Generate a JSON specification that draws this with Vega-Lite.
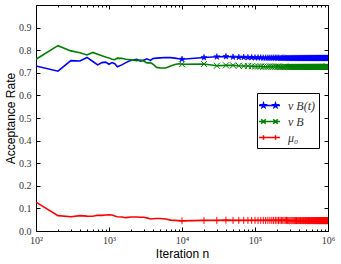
{
  "$schema": "https://vega.github.io/schema/vega-lite/v6.json",
  "width": 292,
  "height": 226,
  "autosize": {"type": "none"},
  "padding": {"left": 36, "top": 5, "right": 13, "bottom": 33},
  "background": "white",
  "config": {
    "view": {"stroke": "black", "strokeWidth": 1},
    "axis": {
      "grid": false,
      "domain": false,
      "tickColor": "black",
      "labelFont": "Liberation Serif",
      "labelFontSize": 10,
      "labelColor": "#333333",
      "titleFont": "Liberation Sans",
      "titleFontSize": 12,
      "titleFontWeight": "normal",
      "titleColor": "black"
    }
  },
  "datasets": {
    "rates": [
      {"n": 100, "nuBt": 0.730, "nuB": 0.760, "mu0": 0.128},
      {"n": 200, "nuBt": 0.707, "nuB": 0.820, "mu0": 0.068},
      {"n": 300, "nuBt": 0.754, "nuB": 0.797, "mu0": 0.063},
      {"n": 400, "nuBt": 0.752, "nuB": 0.789, "mu0": 0.068},
      {"n": 500, "nuBt": 0.768, "nuB": 0.779, "mu0": 0.066},
      {"n": 600, "nuBt": 0.750, "nuB": 0.790, "mu0": 0.065},
      {"n": 700, "nuBt": 0.735, "nuB": 0.782, "mu0": 0.070},
      {"n": 800, "nuBt": 0.745, "nuB": 0.775, "mu0": 0.069},
      {"n": 900, "nuBt": 0.747, "nuB": 0.770, "mu0": 0.071},
      {"n": 1000, "nuBt": 0.738, "nuB": 0.766, "mu0": 0.072},
      {"n": 1100, "nuBt": 0.745, "nuB": 0.760, "mu0": 0.071},
      {"n": 1200, "nuBt": 0.740, "nuB": 0.758, "mu0": 0.066},
      {"n": 1300, "nuBt": 0.727, "nuB": 0.765, "mu0": 0.063},
      {"n": 1500, "nuBt": 0.735, "nuB": 0.764, "mu0": 0.062},
      {"n": 1700, "nuBt": 0.745, "nuB": 0.760, "mu0": 0.059},
      {"n": 2000, "nuBt": 0.755, "nuB": 0.757, "mu0": 0.062},
      {"n": 2400, "nuBt": 0.760, "nuB": 0.754, "mu0": 0.062},
      {"n": 2700, "nuBt": 0.752, "nuB": 0.756, "mu0": 0.061},
      {"n": 3000, "nuBt": 0.756, "nuB": 0.752, "mu0": 0.061},
      {"n": 3300, "nuBt": 0.762, "nuB": 0.744, "mu0": 0.058},
      {"n": 3700, "nuBt": 0.755, "nuB": 0.745, "mu0": 0.053},
      {"n": 4000, "nuBt": 0.763, "nuB": 0.738, "mu0": 0.054},
      {"n": 4500, "nuBt": 0.765, "nuB": 0.724, "mu0": 0.055},
      {"n": 5000, "nuBt": 0.766, "nuB": 0.722, "mu0": 0.055},
      {"n": 6000, "nuBt": 0.768, "nuB": 0.721, "mu0": 0.053},
      {"n": 7000, "nuBt": 0.767, "nuB": 0.730, "mu0": 0.048},
      {"n": 8000, "nuBt": 0.765, "nuB": 0.737, "mu0": 0.047},
      {"n": 9000, "nuBt": 0.762, "nuB": 0.740, "mu0": 0.046},
      {"n": 10000, "nuBt": 0.760, "nuB": 0.738, "mu0": 0.045},
      {"n": 20000, "nuBt": 0.768, "nuB": 0.739, "mu0": 0.047},
      {"n": 30000, "nuBt": 0.771, "nuB": 0.731, "mu0": 0.047},
      {"n": 40000, "nuBt": 0.772, "nuB": 0.733, "mu0": 0.048},
      {"n": 50000, "nuBt": 0.770, "nuB": 0.733, "mu0": 0.047},
      {"n": 60000, "nuBt": 0.769, "nuB": 0.731, "mu0": 0.047},
      {"n": 70000, "nuBt": 0.769, "nuB": 0.730, "mu0": 0.047},
      {"n": 80000, "nuBt": 0.768, "nuB": 0.730, "mu0": 0.047},
      {"n": 90000, "nuBt": 0.768, "nuB": 0.729, "mu0": 0.047},
      {"n": 100000, "nuBt": 0.767, "nuB": 0.728, "mu0": 0.047},
      {"n": 110000, "nuBt": 0.767, "nuB": 0.728, "mu0": 0.047},
      {"n": 120000, "nuBt": 0.767, "nuB": 0.728, "mu0": 0.047},
      {"n": 130000, "nuBt": 0.766, "nuB": 0.727, "mu0": 0.047},
      {"n": 140000, "nuBt": 0.766, "nuB": 0.727, "mu0": 0.047},
      {"n": 150000, "nuBt": 0.766, "nuB": 0.727, "mu0": 0.047},
      {"n": 160000, "nuBt": 0.766, "nuB": 0.728, "mu0": 0.047},
      {"n": 170000, "nuBt": 0.766, "nuB": 0.727, "mu0": 0.047},
      {"n": 180000, "nuBt": 0.766, "nuB": 0.727, "mu0": 0.047},
      {"n": 190000, "nuBt": 0.766, "nuB": 0.727, "mu0": 0.047},
      {"n": 200000, "nuBt": 0.766, "nuB": 0.727, "mu0": 0.047},
      {"n": 210000, "nuBt": 0.766, "nuB": 0.727, "mu0": 0.047},
      {"n": 220000, "nuBt": 0.765, "nuB": 0.726, "mu0": 0.047},
      {"n": 230000, "nuBt": 0.765, "nuB": 0.726, "mu0": 0.047},
      {"n": 240000, "nuBt": 0.766, "nuB": 0.726, "mu0": 0.047},
      {"n": 250000, "nuBt": 0.766, "nuB": 0.727, "mu0": 0.047},
      {"n": 260000, "nuBt": 0.765, "nuB": 0.727, "mu0": 0.047},
      {"n": 270000, "nuBt": 0.765, "nuB": 0.726, "mu0": 0.047},
      {"n": 280000, "nuBt": 0.765, "nuB": 0.726, "mu0": 0.046},
      {"n": 290000, "nuBt": 0.765, "nuB": 0.726, "mu0": 0.046},
      {"n": 300000, "nuBt": 0.765, "nuB": 0.726, "mu0": 0.046},
      {"n": 310000, "nuBt": 0.765, "nuB": 0.726, "mu0": 0.046},
      {"n": 320000, "nuBt": 0.765, "nuB": 0.726, "mu0": 0.046},
      {"n": 330000, "nuBt": 0.765, "nuB": 0.726, "mu0": 0.046},
      {"n": 340000, "nuBt": 0.765, "nuB": 0.726, "mu0": 0.046},
      {"n": 350000, "nuBt": 0.765, "nuB": 0.726, "mu0": 0.046},
      {"n": 360000, "nuBt": 0.765, "nuB": 0.726, "mu0": 0.046},
      {"n": 370000, "nuBt": 0.765, "nuB": 0.726, "mu0": 0.046},
      {"n": 380000, "nuBt": 0.765, "nuB": 0.726, "mu0": 0.046},
      {"n": 390000, "nuBt": 0.765, "nuB": 0.726, "mu0": 0.046},
      {"n": 400000, "nuBt": 0.765, "nuB": 0.726, "mu0": 0.046},
      {"n": 410000, "nuBt": 0.765, "nuB": 0.726, "mu0": 0.046},
      {"n": 420000, "nuBt": 0.765, "nuB": 0.726, "mu0": 0.046},
      {"n": 430000, "nuBt": 0.765, "nuB": 0.726, "mu0": 0.046},
      {"n": 440000, "nuBt": 0.765, "nuB": 0.726, "mu0": 0.046},
      {"n": 450000, "nuBt": 0.765, "nuB": 0.726, "mu0": 0.046},
      {"n": 460000, "nuBt": 0.765, "nuB": 0.726, "mu0": 0.046},
      {"n": 470000, "nuBt": 0.765, "nuB": 0.726, "mu0": 0.046},
      {"n": 480000, "nuBt": 0.765, "nuB": 0.726, "mu0": 0.046},
      {"n": 490000, "nuBt": 0.765, "nuB": 0.726, "mu0": 0.046},
      {"n": 500000, "nuBt": 0.765, "nuB": 0.726, "mu0": 0.046},
      {"n": 510000, "nuBt": 0.765, "nuB": 0.726, "mu0": 0.046},
      {"n": 520000, "nuBt": 0.765, "nuB": 0.726, "mu0": 0.046},
      {"n": 530000, "nuBt": 0.765, "nuB": 0.726, "mu0": 0.046},
      {"n": 540000, "nuBt": 0.765, "nuB": 0.726, "mu0": 0.046},
      {"n": 550000, "nuBt": 0.765, "nuB": 0.726, "mu0": 0.046},
      {"n": 560000, "nuBt": 0.765, "nuB": 0.726, "mu0": 0.046},
      {"n": 570000, "nuBt": 0.765, "nuB": 0.726, "mu0": 0.046},
      {"n": 580000, "nuBt": 0.765, "nuB": 0.726, "mu0": 0.046},
      {"n": 590000, "nuBt": 0.765, "nuB": 0.726, "mu0": 0.046},
      {"n": 600000, "nuBt": 0.765, "nuB": 0.726, "mu0": 0.046},
      {"n": 610000, "nuBt": 0.765, "nuB": 0.726, "mu0": 0.046},
      {"n": 620000, "nuBt": 0.765, "nuB": 0.726, "mu0": 0.046},
      {"n": 630000, "nuBt": 0.765, "nuB": 0.726, "mu0": 0.046},
      {"n": 640000, "nuBt": 0.765, "nuB": 0.726, "mu0": 0.046},
      {"n": 650000, "nuBt": 0.765, "nuB": 0.726, "mu0": 0.046},
      {"n": 660000, "nuBt": 0.765, "nuB": 0.726, "mu0": 0.046},
      {"n": 670000, "nuBt": 0.765, "nuB": 0.726, "mu0": 0.046},
      {"n": 680000, "nuBt": 0.765, "nuB": 0.726, "mu0": 0.046},
      {"n": 690000, "nuBt": 0.765, "nuB": 0.726, "mu0": 0.046},
      {"n": 700000, "nuBt": 0.765, "nuB": 0.726, "mu0": 0.046},
      {"n": 710000, "nuBt": 0.765, "nuB": 0.726, "mu0": 0.046},
      {"n": 720000, "nuBt": 0.765, "nuB": 0.726, "mu0": 0.046},
      {"n": 730000, "nuBt": 0.765, "nuB": 0.726, "mu0": 0.046},
      {"n": 740000, "nuBt": 0.765, "nuB": 0.726, "mu0": 0.046},
      {"n": 750000, "nuBt": 0.765, "nuB": 0.726, "mu0": 0.046},
      {"n": 760000, "nuBt": 0.765, "nuB": 0.726, "mu0": 0.046},
      {"n": 770000, "nuBt": 0.765, "nuB": 0.726, "mu0": 0.046},
      {"n": 780000, "nuBt": 0.765, "nuB": 0.726, "mu0": 0.046},
      {"n": 790000, "nuBt": 0.765, "nuB": 0.726, "mu0": 0.046},
      {"n": 800000, "nuBt": 0.765, "nuB": 0.726, "mu0": 0.046},
      {"n": 810000, "nuBt": 0.765, "nuB": 0.726, "mu0": 0.046},
      {"n": 820000, "nuBt": 0.765, "nuB": 0.726, "mu0": 0.046},
      {"n": 830000, "nuBt": 0.765, "nuB": 0.726, "mu0": 0.046},
      {"n": 840000, "nuBt": 0.765, "nuB": 0.726, "mu0": 0.046},
      {"n": 850000, "nuBt": 0.765, "nuB": 0.726, "mu0": 0.046},
      {"n": 860000, "nuBt": 0.765, "nuB": 0.726, "mu0": 0.046},
      {"n": 870000, "nuBt": 0.765, "nuB": 0.726, "mu0": 0.046},
      {"n": 880000, "nuBt": 0.765, "nuB": 0.726, "mu0": 0.046},
      {"n": 890000, "nuBt": 0.765, "nuB": 0.726, "mu0": 0.046},
      {"n": 900000, "nuBt": 0.765, "nuB": 0.726, "mu0": 0.046},
      {"n": 910000, "nuBt": 0.765, "nuB": 0.726, "mu0": 0.046},
      {"n": 920000, "nuBt": 0.765, "nuB": 0.726, "mu0": 0.046},
      {"n": 930000, "nuBt": 0.765, "nuB": 0.726, "mu0": 0.046},
      {"n": 940000, "nuBt": 0.765, "nuB": 0.726, "mu0": 0.046},
      {"n": 950000, "nuBt": 0.765, "nuB": 0.726, "mu0": 0.046},
      {"n": 960000, "nuBt": 0.765, "nuB": 0.726, "mu0": 0.046},
      {"n": 970000, "nuBt": 0.765, "nuB": 0.726, "mu0": 0.046},
      {"n": 980000, "nuBt": 0.765, "nuB": 0.726, "mu0": 0.046},
      {"n": 990000, "nuBt": 0.765, "nuB": 0.726, "mu0": 0.046},
      {"n": 1000000, "nuBt": 0.765, "nuB": 0.726, "mu0": 0.046}
    ]
  },
  "data": {"name": "rates"},
  "transform": [
    {"fold": ["nuBt", "nuB", "mu0"], "as": ["series", "rate"]}
  ],
  "resolve": {"axis": {"x": "independent", "y": "independent"}},
  "layer": [
    {
      "mark": {"type": "line", "strokeWidth": 1.6, "clip": true},
      "encoding": {
        "x": {
          "field": "n", "type": "quantitative",
          "scale": {"type": "log", "domain": [100, 1000000], "nice": false},
          "axis": {
            "orient": "bottom",
            "values": [100, 1000, 10000, 100000, 1000000],
            "labelExpr": "datum.value == 100 ? '10²' : datum.value == 1000 ? '10³' : datum.value == 10000 ? '10⁴' : datum.value == 100000 ? '10⁵' : '10⁶'",
            "tickSize": -4,
            "labelPadding": 8,
            "labelFlush": false,
            "labelOverlap": false,
            "title": "Iteration n",
            "titlePadding": 3
          }
        },
        "y": {
          "field": "rate", "type": "quantitative",
          "scale": {"domain": [0, 1], "nice": false},
          "axis": {
            "orient": "left",
            "values": [0, 0.1, 0.2, 0.3, 0.4, 0.5, 0.6, 0.7, 0.8, 0.9],
            "format": ".1f",
            "tickSize": -4,
            "labelPadding": 9,
            "title": "Acceptance Rate",
            "titlePadding": 1
          }
        },
        "color": {
          "field": "series", "type": "nominal",
          "scale": {"domain": ["nuBt", "nuB", "mu0"], "range": ["#0000ff", "#008000", "#ff0000"]},
          "legend": {
            "orient": "none",
            "legendX": 221,
            "legendY": 88,
            "title": null,
            "padding": 4,
            "strokeColor": "black",
            "fillColor": "white",
            "cornerRadius": 0,
            "symbolSize": 225,
            "symbolStrokeWidth": 1.5,
            "labelFont": "Liberation Serif",
            "labelFontStyle": "italic",
            "labelFontSize": 12,
            "labelColor": "#333333",
            "labelOffset": 10,
            "rowPadding": 1,
            "labelExpr": "datum.value === 'nuBt' ? 'ν B(t)' : datum.value === 'nuB' ? 'ν B' : 'μ₀'",
            "encode": {
              "symbols": {
                "update": {
                  "shape": {"signal": "datum.value === 'nuBt' ? 'M-1.4,0L1.4,0M-0.8,-0.3L-0.733,-0.092L-0.515,-0.093L-0.692,0.035L-0.624,0.243L-0.8,0.114L-0.976,0.243L-0.908,0.035L-1.085,-0.093L-0.867,-0.092ZM0.8,-0.3L0.867,-0.092L1.085,-0.093L0.908,0.035L0.976,0.243L0.8,0.114L0.624,0.243L0.692,0.035L0.515,-0.093L0.733,-0.092Z' : datum.value === 'nuB' ? 'M-1.4,0L1.4,0M-1.1,-0.3L-0.5,0.3M-1.1,0.3L-0.5,-0.3M0.5,-0.3L1.1,0.3M0.5,0.3L1.1,-0.3' : 'M-1.4,0L1.4,0M-0.8,-0.3L-0.8,0.3M0.8,-0.3L0.8,0.3'"},
                  "fill": {"signal": "datum.value === 'nuBt' ? '#0000ff' : 'transparent'"}
                }
              }
            }
          }
        }
      }
    },
    {
      "transform": [{"filter": "datum.n >= 10000 && datum.series === 'nuBt'"}],
      "mark": {"type": "point", "filled": true, "color": "#0000ff", "stroke": "#0000ff", "strokeWidth": 0.6, "size": 40, "opacity": 1, "clip": true, "shape": "M0,-1L0.22,-0.31L0.95,-0.31L0.36,0.12L0.59,0.81L0,0.38L-0.59,0.81L-0.36,0.12L-0.95,-0.31L-0.22,-0.31Z"},
      "encoding": {
        "x": {
          "field": "n", "type": "quantitative",
          "scale": {"type": "log", "domain": [100, 1000000], "nice": false},
          "axis": {
            "orient": "bottom",
            "values": [200, 300, 400, 500, 600, 700, 800, 900, 2000, 3000, 4000, 5000, 6000, 7000, 8000, 9000, 20000, 30000, 40000, 50000, 60000, 70000, 80000, 90000, 200000, 300000, 400000, 500000, 600000, 700000, 800000, 900000],
            "labels": false,
            "tickSize": -2,
            "title": null
          }
        },
        "y": {
          "field": "rate", "type": "quantitative",
          "scale": {"domain": [0, 1], "nice": false},
          "axis": {
            "orient": "right",
            "values": [0, 0.1, 0.2, 0.3, 0.4, 0.5, 0.6, 0.7, 0.8, 0.9],
            "labels": false,
            "tickSize": -4,
            "title": null
          }
        }
      }
    },
    {
      "transform": [{"filter": "datum.n >= 10000 && datum.series === 'nuB'"}],
      "mark": {"type": "point", "filled": false, "color": "#008000", "strokeWidth": 1, "size": 36, "opacity": 1, "clip": true, "shape": "M-1,-1L1,1M-1,1L1,-1"},
      "encoding": {
        "x": {
          "field": "n", "type": "quantitative",
          "scale": {"type": "log", "domain": [100, 1000000], "nice": false},
          "axis": {
            "orient": "top",
            "values": [100, 1000, 10000, 100000, 1000000],
            "labels": false,
            "tickSize": -4,
            "title": null
          }
        },
        "y": {
          "field": "rate", "type": "quantitative",
          "scale": {"domain": [0, 1], "nice": false},
          "axis": null
        }
      }
    },
    {
      "transform": [{"filter": "datum.n >= 10000 && datum.series === 'mu0'"}],
      "mark": {"type": "point", "filled": false, "color": "#ff0000", "strokeWidth": 1, "size": 49, "opacity": 1, "clip": true, "shape": "M-1,0L1,0M0,-1L0,1"},
      "encoding": {
        "x": {
          "field": "n", "type": "quantitative",
          "scale": {"type": "log", "domain": [100, 1000000], "nice": false},
          "axis": {
            "orient": "top",
            "values": [200, 300, 400, 500, 600, 700, 800, 900, 2000, 3000, 4000, 5000, 6000, 7000, 8000, 9000, 20000, 30000, 40000, 50000, 60000, 70000, 80000, 90000, 200000, 300000, 400000, 500000, 600000, 700000, 800000, 900000],
            "labels": false,
            "tickSize": -2,
            "title": null
          }
        },
        "y": {
          "field": "rate", "type": "quantitative",
          "scale": {"domain": [0, 1], "nice": false},
          "axis": null
        }
      }
    }
  ]
}
